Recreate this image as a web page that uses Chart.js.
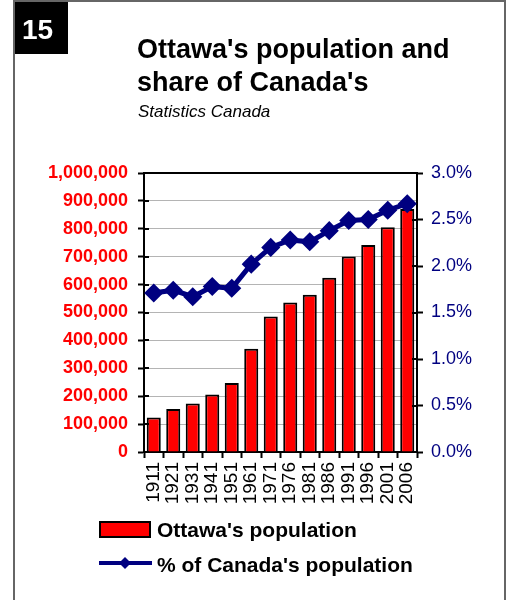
<!DOCTYPE html>
<html>
<head>
<meta charset="utf-8">
<script src="https://cdn.jsdelivr.net/npm/chart.js@4"></script>
<style>
  html, body { margin: 0; padding: 0; background: #fff; }
  #wrap { position: relative; width: 510px; height: 600px; }
</style>
</head>
<body>
<div id="wrap"><canvas id="popChart" width="510" height="600"></canvas></div>
<script>
const years = ['1911', '1921', '1931', '1941', '1951', '1961', '1971', '1976', '1981', '1986', '1991', '1996', '2001', '2006'];
const ottawaPop = [124000, 154000, 174000, 206000, 247000, 370000, 486000, 536000, 564000, 625000, 701000, 742000, 806000, 871000];
const canadaShare = [1.71, 1.74, 1.67, 1.78, 1.76, 2.02, 2.20, 2.28, 2.26, 2.38, 2.49, 2.50, 2.60, 2.67];

const titleLines = ["Ottawa's population and", "share of Canada's"];
const subtitle = 'Statistics Canada';
const badgeText = '15';
const legendLabels = ["Ottawa's population", "% of Canada's population"];

const FONT = '"Liberation Sans", Arial, sans-serif';
const NAVY = '#000080';
Chart.defaults.font.family = FONT;

// frame, badge, titles, legend and the inner halves of the axis ticks
const decor = {
  id: 'decor',
  afterDraw(chart) {
    const ctx = chart.ctx;
    const area = chart.chartArea;
    ctx.save();

    ctx.strokeStyle = '#666';
    ctx.lineWidth = 2;
    ctx.beginPath();
    ctx.moveTo(14, 600); ctx.lineTo(14, 1); ctx.lineTo(505, 1); ctx.lineTo(505, 600);
    ctx.stroke();

    ctx.fillStyle = '#000';
    ctx.fillRect(15, 2, 53, 52);
    ctx.fillStyle = '#fff';
    ctx.font = 'bold 28px ' + FONT;
    ctx.textBaseline = 'alphabetic';
    ctx.fillText(badgeText, 22, 39);

    ctx.fillStyle = '#000';
    ctx.font = 'bold 27px ' + FONT;
    ctx.fillText(titleLines[0], 137, 58);
    ctx.fillText(titleLines[1], 137, 91);
    ctx.font = 'italic 17px ' + FONT;
    ctx.fillText(subtitle, 138, 117);

    // top edge of the plot
    ctx.strokeStyle = '#000';
    ctx.lineWidth = 2;
    ctx.beginPath();
    ctx.moveTo(area.left, area.top);
    ctx.lineTo(area.right, area.top);
    ctx.stroke();

    // ticks crossing into the plot
    const y = chart.scales.y, y1 = chart.scales.y1;
    ctx.beginPath();
    y.ticks.forEach(t => {
      const py = Math.round(y.getPixelForValue(t.value));
      ctx.moveTo(area.left, py); ctx.lineTo(area.left + 5, py);
    });
    y1.ticks.forEach(t => {
      const py = Math.round(y1.getPixelForValue(t.value));
      ctx.moveTo(area.right - 5, py); ctx.lineTo(area.right, py);
    });
    ctx.stroke();

    // legend
    const bar = chart.data.datasets[1];
    const line = chart.data.datasets[0];
    ctx.fillStyle = bar.backgroundColor;
    ctx.fillRect(100, 522, 50, 15);
    ctx.strokeStyle = bar.borderColor;
    ctx.lineWidth = 2;
    ctx.strokeRect(100, 522, 50, 15);

    ctx.strokeStyle = line.borderColor;
    ctx.lineWidth = 4;
    ctx.beginPath();
    ctx.moveTo(99, 563); ctx.lineTo(152, 563);
    ctx.stroke();
    ctx.fillStyle = line.borderColor;
    ctx.beginPath();
    ctx.moveTo(125, 557); ctx.lineTo(131, 563); ctx.lineTo(125, 569); ctx.lineTo(119, 563);
    ctx.closePath();
    ctx.fill();

    ctx.fillStyle = '#000';
    ctx.font = 'bold 21px ' + FONT;
    ctx.fillText(legendLabels[0], 157, 537);
    ctx.fillText(legendLabels[1], 157, 572);
    ctx.restore();
  }
};

const ctx = document.getElementById('popChart').getContext('2d');
const popChart = new Chart(ctx, {
  data: {
    labels: years,
    datasets: [
      {
        type: 'line',
        label: legendLabels[1],
        data: canadaShare,
        yAxisID: 'y1',
        borderColor: NAVY,
        backgroundColor: NAVY,
        borderWidth: 5,
        pointStyle: 'rectRot',
        pointRadius: 6,
        pointBackgroundColor: NAVY,
        pointBorderColor: NAVY,
        tension: 0,
        order: 0
      },
      {
        type: 'bar',
        label: legendLabels[0],
        data: ottawaPop,
        yAxisID: 'y',
        backgroundColor: '#ff0000',
        borderColor: '#000',
        borderWidth: 2,
        barPercentage: 0.72,
        categoryPercentage: 1,
        order: 1
      }
    ]
  },
  options: {
    responsive: false,
    animation: false,
    layout: { padding: { top: 173, left: 0, right: 0, bottom: 0 } },
    plugins: {
      legend: { display: false },
      tooltip: { enabled: false }
    },
    scales: {
      x: {
        grid: { drawOnChartArea: false, tickLength: 6, tickColor: '#000', tickWidth: 2 },
        border: { color: '#000', width: 2 },
        ticks: {
          color: '#000',
          font: { size: 19 },
          minRotation: 90,
          maxRotation: 90,
          padding: 4,
          autoSkip: false
        },
        afterFit(s) { s.height = 148; }
      },
      y: {
        position: 'left',
        min: 0,
        max: 1000000,
        grid: { color: '#b4b4b4', lineWidth: 1, tickLength: 6, tickColor: '#000', tickWidth: 2 },
        border: { color: '#000', width: 2 },
        ticks: {
          stepSize: 100000,
          color: '#ff0000',
          font: { size: 18, weight: 'bold' },
          padding: 10,
          callback: v => v.toLocaleString('en-US')
        },
        afterFit(s) { s.width = 144; }
      },
      y1: {
        position: 'right',
        min: 0,
        max: 3,
        grid: { drawOnChartArea: false, tickLength: 6, tickColor: '#000', tickWidth: 2 },
        border: { color: '#000', width: 2 },
        ticks: {
          stepSize: 0.5,
          color: NAVY,
          font: { size: 18 },
          padding: 8,
          callback: v => v.toFixed(1) + '%'
        },
        afterFit(s) { s.width = 93; }
      }
    }
  },
  plugins: [decor]
});
</script>
</body>
</html>
